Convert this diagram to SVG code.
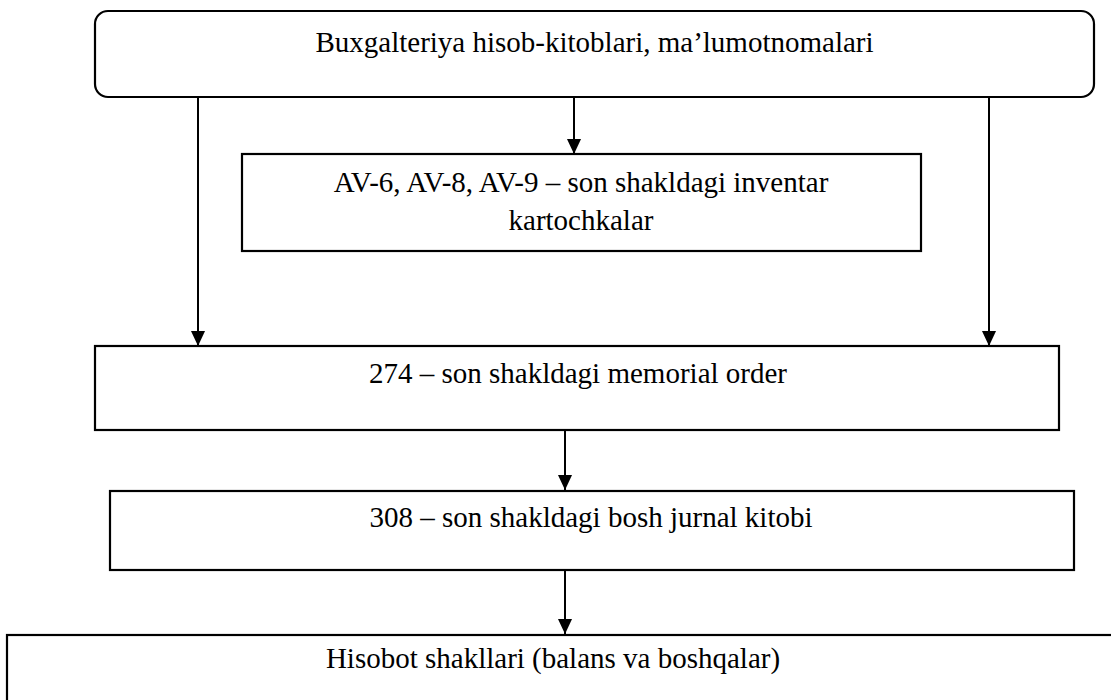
<svg xmlns="http://www.w3.org/2000/svg" width="1111" height="700" viewBox="0 0 1111 700">
  <style>
    .box { fill: #ffffff; stroke: #000000; stroke-width: 2.2; }
    .label { font-size: 29px; fill: #000000; text-anchor: middle; }
    .link { stroke: #000000; stroke-width: 2; fill: none; marker-end: url(#head); }
  </style>
  <defs>
    <marker id="head" markerWidth="15" markerHeight="15" refX="16" refY="7.5" orient="auto" markerUnits="userSpaceOnUse" viewBox="0 0 16 15">
      <path d="M0,0 L16,7.5 L0,15 Z" fill="#000000"/>
    </marker>
  </defs>

  <rect width="1111" height="700" fill="#ffffff"/>

  <!-- connectors -->
  <g id="connectors">
    <line x1="198" y1="97" x2="198" y2="346" class="link"/>
    <line x1="574" y1="97" x2="574" y2="154" class="link"/>
    <line x1="989" y1="97" x2="989" y2="346" class="link"/>
    <line x1="565" y1="430" x2="565" y2="490" class="link"/>
    <line x1="565" y1="570" x2="565" y2="634" class="link"/>
  </g>

  <g id="node-sources">
    <rect class="box" x="95" y="11" width="999" height="86" rx="13" ry="13"/>
    <text class="label" font-family="'Liberation Serif', 'DejaVu Serif', serif" x="594.5" y="52">Buxgalteriya hisob-kitoblari, ma’lumotnomalari</text>
  </g>

  <g id="node-cards">
    <rect class="box" x="242" y="154" width="679" height="97"/>
    <text class="label" font-family="'Liberation Serif', 'DejaVu Serif', serif" x="581" y="192">AV-6, AV-8, AV-9 – son shakldagi inventar</text>
    <text class="label" font-family="'Liberation Serif', 'DejaVu Serif', serif" x="581" y="230">kartochkalar</text>
  </g>

  <g id="node-memorial">
    <rect class="box" x="95" y="346" width="964" height="84"/>
    <text class="label" font-family="'Liberation Serif', 'DejaVu Serif', serif" x="578" y="383">274 – son shakldagi memorial order</text>
  </g>

  <g id="node-journal">
    <rect class="box" x="110" y="491" width="964" height="79"/>
    <text class="label" font-family="'Liberation Serif', 'DejaVu Serif', serif" x="591" y="527">308 – son shakldagi bosh jurnal kitobi</text>
  </g>

  <g id="node-reports">
    <rect class="box" x="7" y="635" width="1120" height="80"/>
    <text class="label" font-family="'Liberation Serif', 'DejaVu Serif', serif" x="553" y="668">Hisobot shakllari (balans va boshqalar)</text>
  </g>
</svg>
